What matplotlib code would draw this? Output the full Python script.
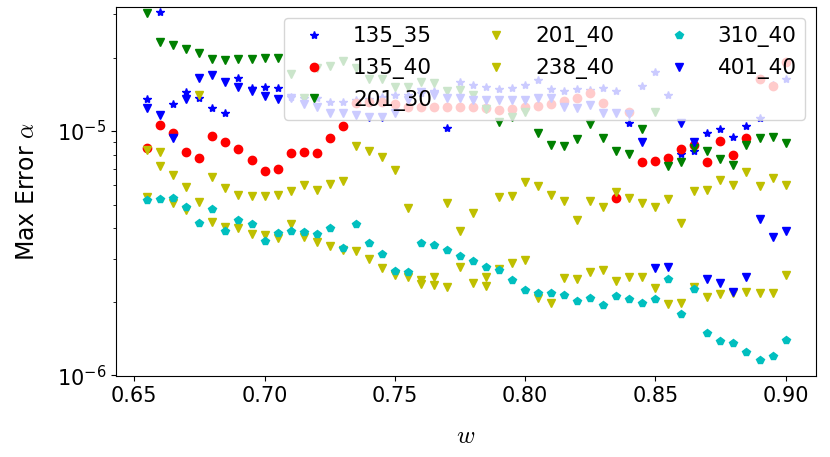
import numpy as np
import matplotlib
matplotlib.use("Agg")
import matplotlib.pyplot as plt

plt.rcParams["mathtext.fontset"] = "cm"

# w grid, 0.655 .. 0.900
w = np.round(np.arange(0.655, 0.9001, 0.005), 3)

# max error values, in units of 1e-6
err_135_35 = [13.5, 30.8, 12.9, 14.4, 13.6, 12.4, 11.9, 16.5, 15.0, 15.2,
              15.0, 13.8, 13.7, 13.6, 13.2, 13.2, 13.4, 13.5, 13.8, 14.0,
              14.0, 14.3, 14.6, 10.3, 15.9, 15.5, 15.1, 14.8, 15.0, 15.5,
              16.2, 14.8, 14.6, 14.8, 14.7, 15.0, 14.6, 10.8, 15.3, 17.4,
              14.1, 8.05, 8.28, 9.79, 10.2, 9.42, 10.5, 11.3, 15.4, 16.4]
err_135_40 = [8.54, 10.6, 9.79, 8.23, 7.73, 9.54, 8.99, 8.42, 7.61, 6.88,
              6.99, 8.10, 8.18, 8.10, 9.39, 10.5, 13.0, 13.2, 13.2, 12.9,
              12.6, 12.6, 12.5, 12.5, 12.5, 12.5, 12.4, 12.2, 12.3, 12.6,
              12.7, 12.9, 13.3, 13.6, 14.3, 13.0, 5.34, 12.0, 7.49, 7.56,
              7.73, 8.42, 8.76, 7.49, 9.10, 7.98, 9.33, 16.4, 15.3, 19.2]
err_201_30 = [30.3, 23.1, 22.5, 21.6, 20.8, 19.8, 19.5, 19.8, 19.7, 20.0,
              20.0, 17.2, 13.6, 18.1, 18.5, 19.3, 18.1, 16.3, 16.3, 15.1,
              15.1, 15.9, 15.7, 14.6, 14.7, 14.0, 12.3, 10.9, 11.4, 12.0,
              9.81, 8.76, 8.71, 9.27, 10.7, 9.39, 8.31, 8.05, 10.2, 12.0,
              7.21, 7.49, 8.52, 8.31, 7.68, 7.26, 8.76, 9.36, 9.48, 8.96]
err_201_40 = [8.36, 8.23, 6.60, 5.92, 14.1, 6.50, 5.83, 5.49, 5.42, 5.42,
              5.49, 5.66, 6.01, 5.74, 6.09, 6.27, 8.67, 8.31, 7.85, 6.92,
              4.83, 2.45, 2.52, 5.09, 3.90, 4.63, 2.52, 5.35, 5.42, 6.20,
              5.94, 5.47, 5.19, 4.32, 5.19, 4.87, 5.63, 5.34, 5.09, 4.87,
              5.27, 4.19, 5.70, 5.74, 6.30, 6.01, 6.77, 5.98, 6.40, 6.01]
err_238_40 = [5.38, 7.21, 5.06, 4.75, 5.14, 4.25, 4.06, 4.00, 3.78, 3.75,
              3.64, 4.16, 3.67, 3.52, 3.39, 3.26, 3.22, 2.98, 2.76, 2.58,
              2.53, 2.36, 2.34, 2.30, 2.77, 2.38, 2.32, 2.73, 2.89, 2.96,
              2.07, 1.98, 2.50, 2.48, 2.64, 2.70, 2.44, 2.52, 2.53, 2.27,
              1.96, 1.97, 2.30, 2.10, 2.15, 2.18, 2.20, 2.17, 2.17, 2.57]
err_310_40 = [5.22, 5.27, 5.30, 4.87, 4.19, 4.78, 3.90, 4.32, 4.15, 3.56,
              3.83, 3.90, 3.87, 3.79, 4.02, 3.33, 4.16, 3.47, 3.13, 2.67,
              2.66, 3.47, 3.41, 3.25, 3.08, 2.94, 2.77, 2.70, 2.45, 2.23,
              2.18, 2.17, 2.13, 2.02, 2.08, 1.94, 2.12, 2.05, 1.98, 2.05,
              2.47, 1.79, 2.25, 1.49, 1.38, 1.35, 1.24, 1.16, 1.20, 1.39]
err_401_40 = [12.4, 11.6, 9.39, 13.5, 16.5, 16.9, 15.9, 15.2, 14.6, 13.9,
              13.5, 13.6, 12.9, 12.5, 11.9, 11.8, 11.6, 11.4, 11.4, 11.9,
              13.4, 14.4, 14.0, 13.7, 13.7, 13.4, 13.4, 13.4, 13.4, 13.4,
              13.6, 13.6, 12.6, 12.4, 12.8, 11.8, 11.8, 11.7, 9.04, 2.74,
              2.77, 10.8, 9.04, 2.49, 2.39, 2.20, 2.53, 4.35, 3.69, 3.91]

series = [("135_35", err_135_35, "b*"),
          ("135_40", err_135_40, "ro"),
          ("201_30", err_201_30, "gv"),
          ("201_40", err_201_40, "yv"),
          ("238_40", err_238_40, "yv"),
          ("310_40", err_310_40, "cp"),
          ("401_40", err_401_40, "bv")]

fig = plt.figure(figsize=(8.3, 4.57), dpi=100)
ax = fig.add_axes([0.1398, 0.1772, 0.8434, 0.8075])

for name, vals, fmt in series:
    ax.plot(w, np.array(vals) * 1e-6, fmt, label=name)

ax.set_yscale("log")
ax.set_xlim(0.643, 0.9117)
ax.set_ylim(0.993e-6, 3.22e-5)
ax.tick_params(labelsize=15)
ax.set_xlabel("$w$", fontsize=18, labelpad=13)
ax.set_ylabel(r"Max Error $\alpha$", fontsize=17, labelpad=13)
ax.legend(loc="upper right", ncol=3, fontsize=15.5)

fig.savefig("out.png", dpi=100)
